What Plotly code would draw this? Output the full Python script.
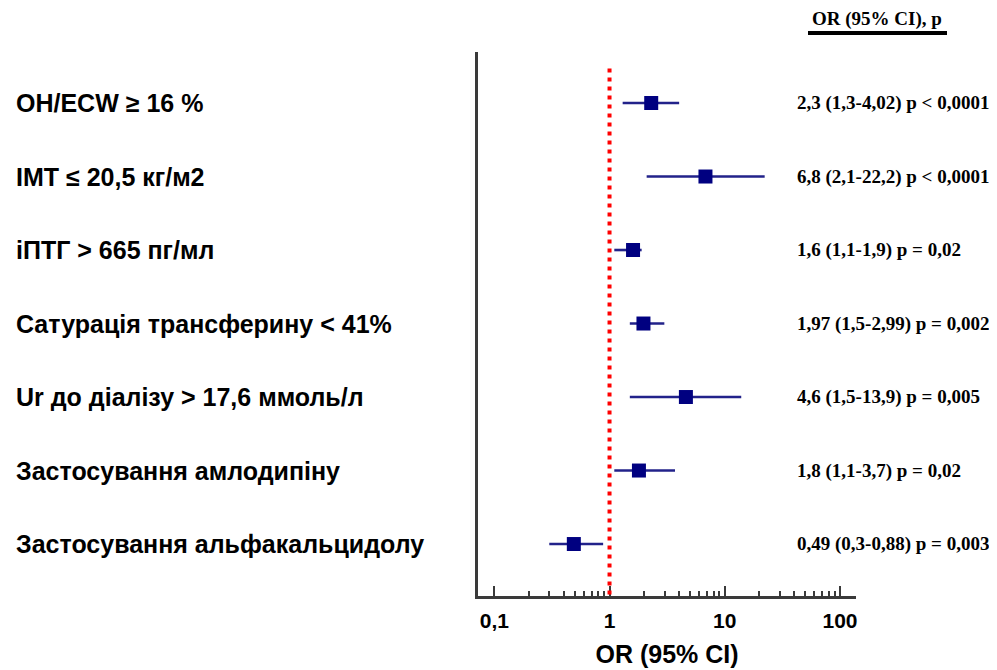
import plotly.graph_objects as go

labels = [
    "OH/ECW ≥ 16 %",
    "IMT ≤ 20,5 кг/м2",
    "iПТГ > 665 пг/мл",
    "Сатурація трансферину < 41%",
    "Ur до діалізу > 17,6 ммоль/л",
    "Застосування амлодипіну",
    "Застосування альфакальцидолу",
]
or_vals = [2.3, 6.8, 1.6, 1.97, 4.6, 1.8, 0.49]
ci_low = [1.3, 2.1, 1.1, 1.5, 1.5, 1.1, 0.3]
ci_high = [4.02, 22.2, 1.9, 2.99, 13.9, 3.7, 0.88]
result_text = [
    "2,3 (1,3-4,02) p < 0,0001",
    "6,8 (2,1-22,2) p < 0,0001",
    "1,6 (1,1-1,9) p = 0,02",
    "1,97 (1,5-2,99) p = 0,002",
    "4,6 (1,5-13,9) p = 0,005",
    "1,8 (1,1-3,7) p = 0,02",
    "0,49 (0,3-0,88) p = 0,003",
]
tick_vals = [0.1, 1, 10, 100]
tick_text = ["0,1", "1", "10", "100"]
header = "OR (95% CI), p"
x_title = "OR (95% CI)"

rows = list(range(len(labels)))
OFF = 8  # page body margin
W, H = 997 - OFF, 670 - OFF


def px(x):
    return (x - OFF) / W


def py(y):
    return 1 - (y - OFF) / H


fig = go.Figure()
fig.add_trace(go.Scatter(
    x=or_vals, y=rows, mode="markers",
    marker=dict(symbol="square", size=14, color="#000080"),
    error_x=dict(type="data", symmetric=False,
                 array=[h - o for h, o in zip(ci_high, or_vals)],
                 arrayminus=[o - l for o, l in zip(or_vals, ci_low)],
                 width=0, thickness=2.6, color="#22228a"),
    showlegend=False, hoverinfo="skip",
))

# reference line at OR = 1
fig.add_shape(type="line", xref="x", yref="y", x0=1, x1=1, y0=-0.47, y1=6.707,
              line=dict(color="#ff0000", width=4, dash="4px,5px"), layer="above")

# row labels
for r, lab in zip(rows, labels):
    fig.add_annotation(xref="paper", yref="y", x=px(14), y=r, text=lab,
                       xanchor="left", yanchor="middle", showarrow=False,
                       font=dict(family="Liberation Sans, Arial", size=25, color="#000000", weight="bold"))
# result texts
for r, t in zip(rows, result_text):
    fig.add_annotation(xref="paper", yref="y", x=px(795), y=r, text=t,
                       xanchor="left", yanchor="middle", showarrow=False,
                       font=dict(family="Liberation Serif, Times New Roman", size=19, color="#000000", weight="bold"))
# header
fig.add_annotation(xref="paper", yref="paper", x=px(877), y=py(19), text=header,
                   xanchor="center", yanchor="middle", showarrow=False,
                   font=dict(family="Liberation Serif, Times New Roman", size=19, color="#000000", weight="bold"))
fig.add_shape(type="line", xref="paper", yref="paper", x0=px(808), x1=px(947),
              y0=py(33), y1=py(33), line=dict(color="#000000", width=4))

minor_vals = [m * 10 ** e for e in (-1, 0, 1) for m in range(2, 10)]

fig.update_layout(
    width=W, height=H, autosize=False,
    margin=dict(l=0, r=0, t=0, b=0),
    paper_bgcolor="white", plot_bgcolor="white",
    xaxis=dict(
        type="log", domain=[px(478), px(856)], range=[-1.1415, 2.139],
        showgrid=False, zeroline=False, automargin=False,
        showline=True, linecolor="#3a3a3a", linewidth=3,
        ticks="inside", ticklen=10, tickwidth=2, tickcolor="#3a3a3a",
        tickvals=tick_vals, ticktext=tick_text,
        ticklabelstandoff=4,
        tickfont=dict(family="Liberation Sans, Arial", size=21, color="#000000", weight="bold"),
        minor=dict(ticks="inside", ticklen=5, tickwidth=1.5, tickcolor="#3a3a3a",
                   tickvals=minor_vals, showgrid=False),
        title=dict(text=x_title, standoff=15,
                   font=dict(family="Liberation Sans, Arial", size=25, color="#000000", weight="bold")),
    ),
    yaxis=dict(
        domain=[py(596), py(52)], range=[6.707, -0.694], automargin=False,
        showgrid=False, zeroline=False, showticklabels=False, ticks="",
        showline=True, linecolor="#3a3a3a", linewidth=3,
    ),
)

fig.write_html("out.html")
